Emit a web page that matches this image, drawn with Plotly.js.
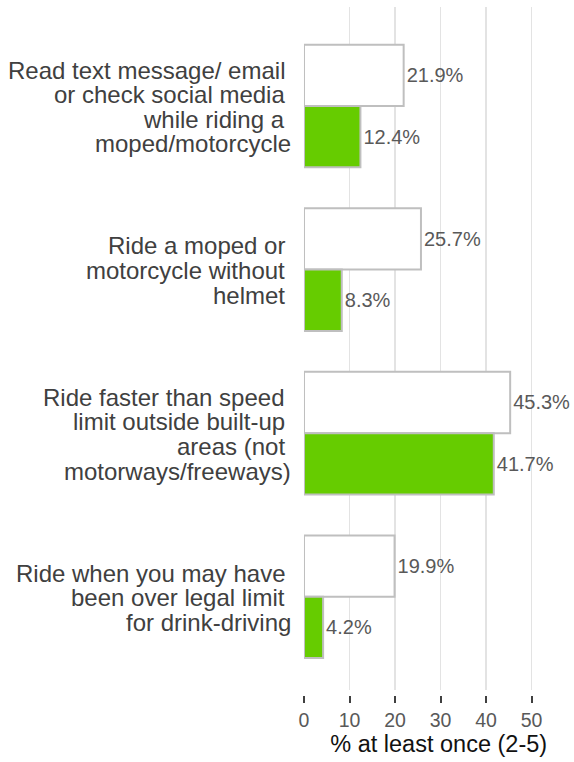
<!DOCTYPE html>
<html>
<head>
<meta charset="utf-8">
<script src="https://cdn.plot.ly/plotly-3.0.1.min.js"></script>
<style>html,body{margin:0;padding:0;background:#fff;}#chart{width:574px;height:762px;}</style>
</head>
<body>
<div id="chart"></div>
<script>
const categoryLines = [
  ["Read text message/ email", "or check social media", "while riding a", "moped/motorcycle"],
  ["Ride a moped or", "motorcycle without", "helmet"],
  ["Ride faster than speed", "limit outside built-up", "areas (not", "motorways/freeways)"],
  ["Ride when you may have", "been over legal limit", "for drink-driving"]
];
const categories = categoryLines.map(l => l.join(' '));
const seriesWhite = [21.9, 25.7, 45.3, 19.9];
const seriesGreen = [12.4, 8.3, 41.7, 4.2];
const xTicks = [0, 10, 20, 30, 40, 50];

const FONT = "'Liberation Sans', Arial, sans-serif";
const LINE_H = 24.6;

const traceWhite = {
  type: 'bar', orientation: 'h', name: 'Series 1',
  y: categories, x: seriesWhite,
  text: seriesWhite.map(v => v.toFixed(1) + '%'),
  textposition: 'outside', cliponaxis: false, textangle: 0, constraintext: 'none',
  textfont: {family: FONT, size: 20, color: '#595959'},
  marker: {color: '#ffffff', line: {color: '#bfbfbf', width: 2}},
  hoverinfo: 'none'
};
const traceGreen = {
  type: 'bar', orientation: 'h', name: 'Series 2',
  y: categories, x: seriesGreen,
  text: seriesGreen.map(v => v.toFixed(1) + '%'),
  textposition: 'outside', cliponaxis: false, textangle: 0, constraintext: 'none',
  textfont: {family: FONT, size: 20, color: '#595959'},
  marker: {color: '#66cc00', line: {color: '#bfbfbf', width: 2}},
  hoverinfo: 'none'
};

const annotations = [];
categoryLines.forEach((lines, i) => {
  const n = lines.length;
  lines.forEach((txt, j) => {
    const isLast = (j === n - 1) && i !== 1;
    annotations.push({
      xref: 'paper', x: 293 / 574, xanchor: 'right',
      xshift: isLast ? 0 : -6,
      yref: 'y', y: categories[i], yanchor: 'middle',
      yshift: ((n - 1) / 2 - j) * LINE_H - 1,
      text: txt, showarrow: false,
      font: {family: FONT, size: 24, color: '#404040'}
    });
  });
});

const layout = {
  width: 574, height: 762,
  margin: {l: 0, r: 0, t: 0, b: 0},
  paper_bgcolor: '#ffffff', plot_bgcolor: '#ffffff',
  showlegend: false,
  barmode: 'group', bargap: 0.25, bargroupgap: 0,
  font: {family: FONT},
  annotations: annotations,
  xaxis: {
    domain: [0.5296, 0.999],
    range: [0, 59.2],
    tickvals: xTicks,
    ticktext: xTicks.map(String),
    showgrid: true, gridcolor: '#e3e3e3', gridwidth: 1.5,
    zeroline: false, showline: false,
    ticks: 'outside', ticklen: 7, tickwidth: 2, tickcolor: '#404040',
    tickfont: {family: FONT, size: 19.5, color: '#595959'},
    anchor: 'free', position: 0.0875,
    automargin: false,
    title: {text: '% at least once (2-5)', font: {family: FONT, size: 23.5, color: '#111111'}, standoff: 4}
  },
  yaxis: {
    domain: [0.0945, 0.9908],
    range: [3.57, -0.605],
    type: 'category',
    showgrid: false, zeroline: false, showline: false,
    ticks: '', showticklabels: false,
    automargin: false
  }
};

Plotly.newPlot('chart', [traceWhite, traceGreen], layout, {displayModeBar: false, staticPlot: true});
</script>
</body>
</html>
